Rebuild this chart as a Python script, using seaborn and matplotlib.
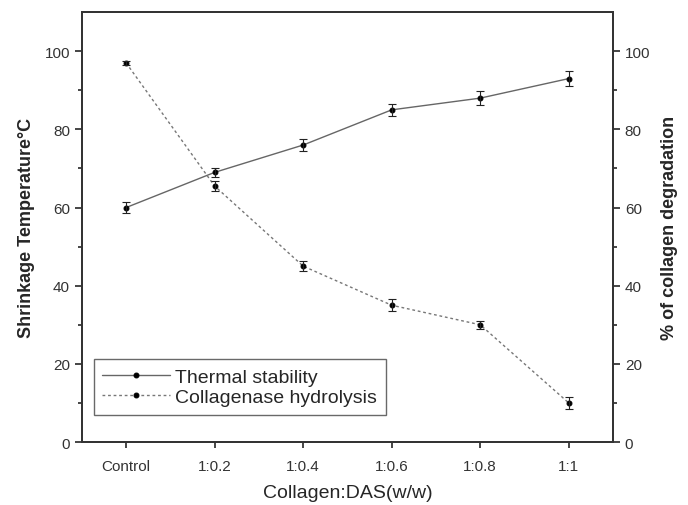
import numpy as np
import pandas as pd
import matplotlib
matplotlib.use("Agg")
import matplotlib.pyplot as plt
import seaborn as sns

# Data
CATEGORIES = ["Control", "1:0.2", "1:0.4", "1:0.6", "1:0.8", "1:1"]
THERMAL = [60, 69, 76, 85, 88, 93]
THERMAL_ERR = [1.5, 1.2, 1.5, 1.5, 1.8, 2.0]
HYDROLYSIS = [97, 65.5, 45, 35, 30, 10]
HYDROLYSIS_ERR = [0.5, 1.2, 1.2, 1.5, 1.0, 1.5]

sns.set_style("ticks")
plt.rcParams["font.family"] = ["Liberation Sans", "DejaVu Sans"]
plt.rcParams["axes.linewidth"] = 1.3

fig = plt.figure(figsize=(6.88, 5.06), dpi=100)
ax = fig.add_axes([0.119, 0.1245, 0.772, 0.8495])
ax2 = ax.twinx()

x = np.arange(len(CATEGORIES))
df = pd.DataFrame({"x": x, "thermal": THERMAL, "hydro": HYDROLYSIS})

sns.lineplot(data=df, x="x", y="thermal", ax=ax, color="#666666", lw=1.0,
             marker="o", markersize=3.5, markerfacecolor="black",
             markeredgecolor="black", label="Thermal stability", legend=False)
ax.errorbar(x, THERMAL, yerr=THERMAL_ERR, fmt="none", ecolor="#222222",
            elinewidth=0.8, capsize=3, capthick=0.8)

sns.lineplot(data=df, x="x", y="hydro", ax=ax2, color="#777777", lw=1.0,
             linestyle=(0, (2, 2)), marker="o", markersize=3.5,
             markerfacecolor="black", markeredgecolor="black",
             label="Collagenase hydrolysis", legend=False)
ax2.errorbar(x, HYDROLYSIS, yerr=HYDROLYSIS_ERR, fmt="none", ecolor="#222222",
             elinewidth=0.8, capsize=3, capthick=0.8)

for a in (ax, ax2):
    a.set_ylim(0, 110)
    a.set_yticks(np.arange(0, 101, 20))
    a.set_yticks(np.arange(10, 101, 20), minor=True)
    a.tick_params(axis="y", which="major", length=5, width=1.2,
                  labelsize=11, labelcolor="#333333")
    a.tick_params(axis="y", which="minor", length=3, width=1.2)

ax.set_xlim(-0.5, 5.5)
ax.set_xticks(x)
ax.set_xticklabels(CATEGORIES)
ax.tick_params(axis="x", length=4, width=1.2, labelsize=11,
               labelcolor="#333333", pad=8)

ax.set_xlabel("Collagen:DAS(w/w)", fontsize=14, labelpad=8)
ax.set_ylabel("Shrinkage Temperature°C", fontsize=13, fontweight="bold",
              labelpad=7)
ax2.set_ylabel("% of collagen degradation", fontsize=13, fontweight="bold",
               rotation=90, labelpad=8)
ax2.set_xlabel("")

for a in (ax, ax2):
    for s in a.spines.values():
        s.set_visible(True)
        s.set_color("#333333")

h1, l1 = ax.get_legend_handles_labels()
h2, l2 = ax2.get_legend_handles_labels()
leg = ax2.legend(h1 + h2, l1 + l2, loc="lower left",
                 bbox_to_anchor=(0.022, 0.063), borderaxespad=0,
                 fontsize=14, frameon=True, fancybox=False,
                 edgecolor="#444444", handlelength=3.5, borderpad=0.45,
                 labelspacing=0.15, handletextpad=0.25)
leg.get_frame().set_linewidth(1.0)

fig.savefig("out.png", dpi=100)
